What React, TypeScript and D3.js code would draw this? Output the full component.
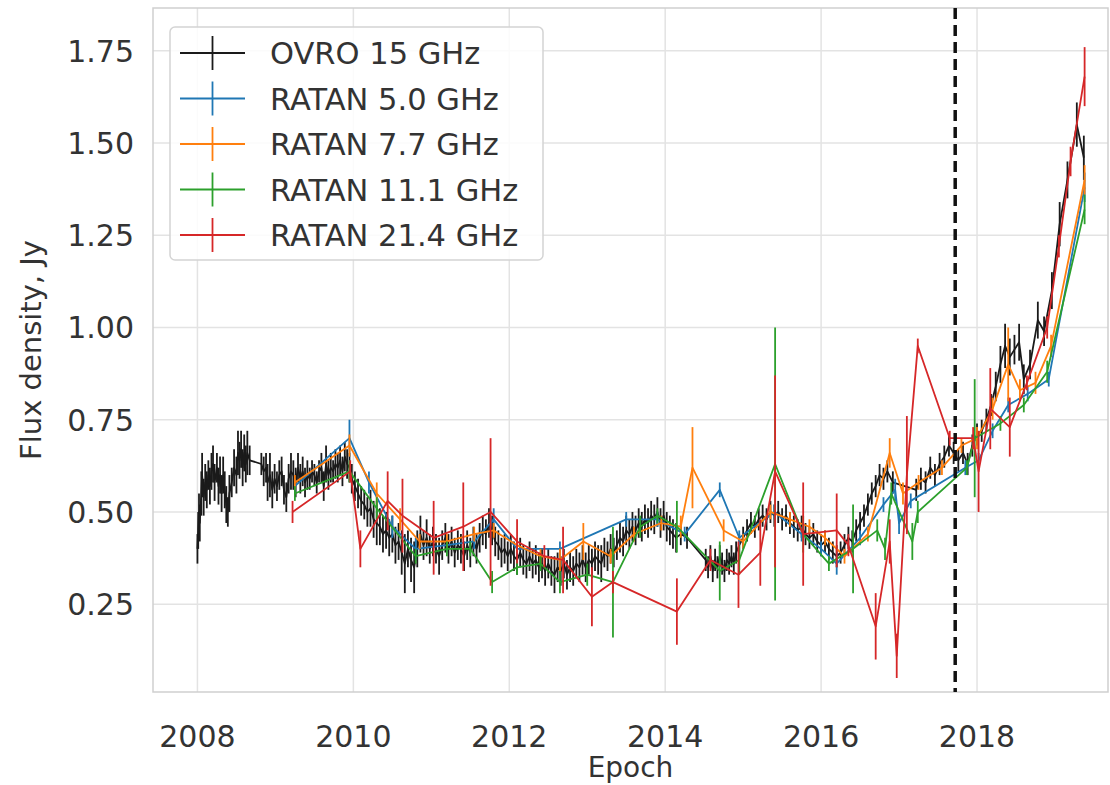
import React from "react";
import * as d3 from "d3";

// [epoch, flux density (Jy), 1-sigma error]
type Pt = [number, number, number];

const OVRO_15: Pt[] = [
  [2008.00, 0.40, 0.04], [2008.01, 0.45, 0.05], [2008.02, 0.50, 0.05], [2008.03, 0.47, 0.05],
  [2008.05, 0.55, 0.06], [2008.06, 0.60, 0.06], [2008.08, 0.54, 0.05], [2008.10, 0.58, 0.05],
  [2008.12, 0.56, 0.05], [2008.14, 0.60, 0.04], [2008.16, 0.57, 0.05], [2008.18, 0.61, 0.05],
  [2008.20, 0.63, 0.05], [2008.22, 0.58, 0.05], [2008.25, 0.62, 0.04], [2008.27, 0.57, 0.05],
  [2008.29, 0.60, 0.05], [2008.31, 0.55, 0.05], [2008.33, 0.60, 0.05], [2008.35, 0.56, 0.05],
  [2008.37, 0.52, 0.05], [2008.39, 0.50, 0.04], [2008.41, 0.55, 0.05], [2008.44, 0.58, 0.04],
  [2008.47, 0.62, 0.05], [2008.50, 0.60, 0.05], [2008.52, 0.66, 0.06], [2008.54, 0.64, 0.05],
  [2008.56, 0.67, 0.05], [2008.58, 0.62, 0.05], [2008.60, 0.66, 0.05], [2008.62, 0.63, 0.05],
  [2008.64, 0.66, 0.06], [2008.67, 0.64, 0.04], [2008.82, 0.63, 0.03], [2008.85, 0.61, 0.04],
  [2008.88, 0.62, 0.04], [2008.90, 0.58, 0.05], [2008.93, 0.60, 0.06], [2008.96, 0.56, 0.05],
  [2008.99, 0.59, 0.04], [2009.02, 0.57, 0.04], [2009.05, 0.60, 0.04], [2009.08, 0.61, 0.04],
  [2009.11, 0.56, 0.04], [2009.14, 0.54, 0.04], [2009.17, 0.59, 0.04], [2009.20, 0.61, 0.05],
  [2009.23, 0.60, 0.04], [2009.26, 0.58, 0.04], [2009.29, 0.62, 0.04], [2009.32, 0.59, 0.04],
  [2009.35, 0.61, 0.04], [2009.38, 0.58, 0.04], [2009.41, 0.60, 0.04], [2009.44, 0.59, 0.03],
  [2009.47, 0.61, 0.03], [2009.50, 0.60, 0.03], [2009.53, 0.58, 0.03], [2009.56, 0.61, 0.03],
  [2009.59, 0.62, 0.04], [2009.62, 0.57, 0.04], [2009.65, 0.63, 0.05], [2009.68, 0.60, 0.04],
  [2009.71, 0.62, 0.04], [2009.74, 0.61, 0.03], [2009.77, 0.63, 0.04], [2009.80, 0.62, 0.04],
  [2009.83, 0.64, 0.04], [2009.86, 0.61, 0.04], [2009.89, 0.65, 0.04], [2009.92, 0.63, 0.04],
  [2009.95, 0.62, 0.04], [2009.98, 0.59, 0.04], [2010.02, 0.57, 0.04], [2010.06, 0.55, 0.04],
  [2010.10, 0.53, 0.04], [2010.14, 0.52, 0.04], [2010.18, 0.50, 0.04], [2010.22, 0.51, 0.05],
  [2010.26, 0.48, 0.05], [2010.30, 0.47, 0.06], [2010.34, 0.46, 0.05], [2010.38, 0.44, 0.05],
  [2010.42, 0.45, 0.05], [2010.46, 0.43, 0.05], [2010.50, 0.44, 0.05], [2010.54, 0.41, 0.05],
  [2010.58, 0.42, 0.05], [2010.62, 0.39, 0.06], [2010.66, 0.36, 0.08], [2010.70, 0.40, 0.05],
  [2010.74, 0.37, 0.06], [2010.78, 0.35, 0.07], [2010.82, 0.40, 0.05], [2010.86, 0.44, 0.05],
  [2010.90, 0.41, 0.04], [2010.94, 0.43, 0.05], [2010.98, 0.40, 0.04], [2011.02, 0.42, 0.04],
  [2011.06, 0.40, 0.04], [2011.10, 0.38, 0.05], [2011.14, 0.41, 0.04], [2011.18, 0.43, 0.04],
  [2011.22, 0.40, 0.04], [2011.26, 0.42, 0.04], [2011.30, 0.39, 0.04], [2011.34, 0.41, 0.04],
  [2011.38, 0.40, 0.04], [2011.42, 0.38, 0.04], [2011.46, 0.41, 0.04], [2011.50, 0.39, 0.04],
  [2011.54, 0.42, 0.04], [2011.58, 0.40, 0.04], [2011.62, 0.43, 0.04], [2011.66, 0.45, 0.04],
  [2011.70, 0.44, 0.04], [2011.74, 0.47, 0.04], [2011.78, 0.45, 0.04], [2011.82, 0.42, 0.04],
  [2011.86, 0.41, 0.04], [2011.90, 0.39, 0.04], [2011.94, 0.40, 0.04], [2011.98, 0.38, 0.04],
  [2012.02, 0.40, 0.04], [2012.06, 0.38, 0.04], [2012.10, 0.37, 0.04], [2012.14, 0.39, 0.04],
  [2012.18, 0.37, 0.04], [2012.22, 0.36, 0.04], [2012.26, 0.38, 0.04], [2012.30, 0.36, 0.04],
  [2012.34, 0.37, 0.04], [2012.38, 0.35, 0.04], [2012.42, 0.36, 0.04], [2012.46, 0.34, 0.04],
  [2012.50, 0.36, 0.04], [2012.54, 0.34, 0.04], [2012.58, 0.33, 0.05], [2012.62, 0.35, 0.04],
  [2012.66, 0.34, 0.04], [2012.70, 0.36, 0.04], [2012.74, 0.33, 0.04], [2012.78, 0.35, 0.04],
  [2012.82, 0.34, 0.04], [2012.86, 0.36, 0.04], [2012.90, 0.35, 0.04], [2012.94, 0.37, 0.04],
  [2012.98, 0.35, 0.04], [2013.02, 0.37, 0.04], [2013.06, 0.36, 0.04], [2013.10, 0.38, 0.04],
  [2013.14, 0.37, 0.04], [2013.18, 0.36, 0.05], [2013.22, 0.39, 0.04], [2013.26, 0.38, 0.04],
  [2013.30, 0.40, 0.04], [2013.34, 0.39, 0.04], [2013.38, 0.41, 0.04], [2013.42, 0.43, 0.04],
  [2013.46, 0.42, 0.04], [2013.50, 0.45, 0.04], [2013.54, 0.44, 0.04], [2013.58, 0.46, 0.04],
  [2013.62, 0.45, 0.04], [2013.66, 0.47, 0.04], [2013.70, 0.46, 0.04], [2013.74, 0.48, 0.04],
  [2013.78, 0.47, 0.04], [2013.82, 0.49, 0.04], [2013.86, 0.48, 0.04], [2013.90, 0.50, 0.04],
  [2013.94, 0.47, 0.04], [2013.98, 0.49, 0.04], [2014.02, 0.46, 0.04], [2014.06, 0.45, 0.04],
  [2014.10, 0.44, 0.04], [2014.14, 0.43, 0.04], [2014.20, 0.44, 0.03], [2014.28, 0.43, 0.03],
  [2014.52, 0.37, 0.03], [2014.55, 0.35, 0.03], [2014.58, 0.38, 0.03], [2014.61, 0.34, 0.03],
  [2014.64, 0.37, 0.03], [2014.67, 0.35, 0.03], [2014.70, 0.38, 0.03], [2014.73, 0.36, 0.03],
  [2014.76, 0.34, 0.03], [2014.79, 0.37, 0.03], [2014.82, 0.36, 0.03], [2014.85, 0.38, 0.03],
  [2014.88, 0.36, 0.03], [2014.91, 0.39, 0.03], [2014.95, 0.41, 0.03], [2015.00, 0.43, 0.03],
  [2015.05, 0.45, 0.03], [2015.10, 0.47, 0.03], [2015.15, 0.46, 0.03], [2015.20, 0.48, 0.03],
  [2015.25, 0.49, 0.03], [2015.30, 0.48, 0.03], [2015.35, 0.50, 0.03], [2015.40, 0.49, 0.03],
  [2015.45, 0.50, 0.03], [2015.50, 0.48, 0.03], [2015.55, 0.49, 0.03], [2015.60, 0.47, 0.03],
  [2015.65, 0.46, 0.03], [2015.70, 0.45, 0.03], [2015.75, 0.46, 0.03], [2015.80, 0.44, 0.03],
  [2015.85, 0.43, 0.03], [2015.90, 0.44, 0.03], [2015.95, 0.42, 0.03], [2016.00, 0.41, 0.03],
  [2016.05, 0.42, 0.03], [2016.10, 0.40, 0.03], [2016.15, 0.39, 0.03], [2016.20, 0.38, 0.03],
  [2016.25, 0.39, 0.03], [2016.30, 0.41, 0.03], [2016.35, 0.43, 0.03], [2016.40, 0.42, 0.03],
  [2016.45, 0.45, 0.03], [2016.50, 0.47, 0.03], [2016.55, 0.49, 0.03], [2016.60, 0.52, 0.03],
  [2016.65, 0.55, 0.03], [2016.70, 0.57, 0.03], [2016.75, 0.60, 0.03], [2016.80, 0.59, 0.03],
  [2016.85, 0.61, 0.03], [2016.92, 0.58, 0.03], [2017.22, 0.56, 0.03], [2017.28, 0.59, 0.03],
  [2017.34, 0.58, 0.03], [2017.40, 0.62, 0.03], [2017.46, 0.60, 0.03], [2017.52, 0.63, 0.03],
  [2017.58, 0.65, 0.03], [2017.64, 0.68, 0.03], [2017.70, 0.66, 0.03], [2017.76, 0.64, 0.03],
  [2017.82, 0.66, 0.03], [2017.88, 0.63, 0.03], [2017.94, 0.68, 0.03], [2018.00, 0.71, 0.03],
  [2018.06, 0.72, 0.03], [2018.12, 0.75, 0.03], [2018.18, 0.79, 0.03], [2018.24, 0.84, 0.04],
  [2018.30, 0.90, 0.05], [2018.36, 0.95, 0.06], [2018.42, 0.92, 0.05], [2018.48, 0.94, 0.04],
  [2018.54, 0.96, 0.05], [2018.60, 0.86, 0.04], [2018.68, 0.90, 0.04], [2018.78, 1.02, 0.05],
  [2018.86, 0.99, 0.04], [2018.96, 1.10, 0.05], [2019.06, 1.28, 0.06], [2019.16, 1.40, 0.05],
  [2019.28, 1.55, 0.06], [2019.37, 1.46, 0.06],
];

const RATAN_5_0: Pt[] = [
  [2009.25, 0.57, 0.02], [2009.95, 0.70, 0.05], [2010.20, 0.58, 0.03], [2010.50, 0.46, 0.03],
  [2010.80, 0.40, 0.03], [2011.20, 0.41, 0.02], [2011.55, 0.42, 0.02], [2011.80, 0.48, 0.03],
  [2012.10, 0.40, 0.02], [2012.65, 0.40, 0.02], [2013.50, 0.48, 0.02], [2013.90, 0.48, 0.02],
  [2014.25, 0.44, 0.02], [2014.70, 0.56, 0.02], [2014.95, 0.43, 0.02], [2015.40, 0.50, 0.02],
  [2015.75, 0.44, 0.02], [2016.00, 0.40, 0.02], [2016.20, 0.36, 0.03], [2016.50, 0.43, 0.02],
  [2016.80, 0.52, 0.02], [2016.95, 0.56, 0.03], [2017.00, 0.47, 0.03], [2017.15, 0.53, 0.02],
  [2017.85, 0.62, 0.02], [2018.02, 0.64, 0.02], [2018.20, 0.72, 0.02], [2018.40, 0.79, 0.02],
  [2018.65, 0.82, 0.02], [2018.92, 0.86, 0.02], [2019.38, 1.38, 0.04],
];

const RATAN_7_7: Pt[] = [
  [2009.25, 0.58, 0.02], [2009.95, 0.68, 0.03], [2010.30, 0.55, 0.03], [2010.60, 0.48, 0.03],
  [2010.85, 0.42, 0.02], [2011.20, 0.42, 0.02], [2011.55, 0.44, 0.02], [2011.80, 0.45, 0.02],
  [2012.10, 0.41, 0.02], [2012.40, 0.38, 0.02], [2012.65, 0.37, 0.03], [2012.95, 0.42, 0.05],
  [2013.30, 0.38, 0.02], [2013.60, 0.44, 0.02], [2013.95, 0.47, 0.02], [2014.20, 0.46, 0.03],
  [2014.35, 0.62, 0.11], [2014.75, 0.45, 0.03], [2015.00, 0.42, 0.02], [2015.35, 0.50, 0.02],
  [2015.60, 0.48, 0.02], [2015.85, 0.46, 0.02], [2016.05, 0.43, 0.02], [2016.30, 0.38, 0.02],
  [2016.60, 0.44, 0.02], [2016.88, 0.66, 0.04], [2017.05, 0.55, 0.03], [2017.25, 0.58, 0.02],
  [2017.55, 0.62, 0.02], [2017.80, 0.68, 0.02], [2018.00, 0.70, 0.03], [2018.20, 0.78, 0.03],
  [2018.40, 0.90, 0.10], [2018.55, 0.83, 0.03], [2018.75, 0.85, 0.03], [2018.95, 0.95, 0.03],
  [2019.38, 1.40, 0.04],
];

const RATAN_11_1: Pt[] = [
  [2009.25, 0.55, 0.02], [2009.95, 0.61, 0.03], [2010.30, 0.51, 0.03], [2010.80, 0.38, 0.02],
  [2011.20, 0.40, 0.02], [2011.50, 0.40, 0.02], [2011.78, 0.31, 0.03], [2012.10, 0.35, 0.02],
  [2012.40, 0.36, 0.02], [2012.65, 0.31, 0.03], [2013.00, 0.33, 0.03], [2013.33, 0.31, 0.15],
  [2013.68, 0.46, 0.03], [2013.90, 0.49, 0.02], [2014.15, 0.46, 0.07], [2014.70, 0.34, 0.08],
  [2014.95, 0.37, 0.04], [2015.41, 0.63, 0.37], [2015.77, 0.44, 0.05], [2016.10, 0.36, 0.02],
  [2016.41, 0.40, 0.12], [2016.72, 0.45, 0.03], [2016.82, 0.40, 0.03], [2016.90, 0.55, 0.03],
  [2017.17, 0.42, 0.05], [2017.24, 0.50, 0.03], [2017.87, 0.62, 0.02], [2017.97, 0.70, 0.16],
  [2018.30, 0.74, 0.02], [2018.60, 0.79, 0.02], [2018.90, 0.88, 0.03], [2019.38, 1.32, 0.04],
];

const RATAN_21_4: Pt[] = [
  [2009.22, 0.50, 0.03], [2009.96, 0.61, 0.03], [2010.09, 0.40, 0.05], [2010.44, 0.53, 0.08],
  [2010.63, 0.49, 0.10], [2011.03, 0.43, 0.10], [2011.41, 0.46, 0.12], [2011.76, 0.50, 0.20],
  [2012.10, 0.42, 0.06], [2012.45, 0.38, 0.03], [2012.69, 0.37, 0.09], [2013.06, 0.27, 0.08],
  [2013.33, 0.31, 0.03], [2014.15, 0.23, 0.09], [2014.58, 0.37, 0.03], [2014.94, 0.33, 0.09],
  [2015.22, 0.39, 0.09], [2015.41, 0.61, 0.26], [2015.77, 0.44, 0.14], [2016.20, 0.45, 0.10],
  [2016.35, 0.41, 0.03], [2016.70, 0.19, 0.09], [2016.88, 0.42, 0.06], [2016.97, 0.11, 0.06],
  [2017.10, 0.60, 0.16], [2017.24, 0.95, 0.02], [2017.65, 0.70, 0.02], [2017.95, 0.70, 0.03],
  [2018.02, 0.61, 0.11], [2018.17, 0.78, 0.11], [2018.42, 0.73, 0.08], [2018.64, 0.85, 0.02],
  [2018.90, 1.00, 0.03], [2019.05, 1.22, 0.03], [2019.20, 1.45, 0.04], [2019.38, 1.68, 0.08],
];

const SERIES = [
  { name: "OVRO 15 GHz", color: "#1a1a1a", data: OVRO_15 },
  { name: "RATAN 5.0 GHz", color: "#1f77b4", data: RATAN_5_0 },
  { name: "RATAN 7.7 GHz", color: "#ff7f0e", data: RATAN_7_7 },
  { name: "RATAN 11.1 GHz", color: "#2ca02c", data: RATAN_11_1 },
  { name: "RATAN 21.4 GHz", color: "#d62728", data: RATAN_21_4 },
];

const X_TICKS = [2008, 2010, 2012, 2014, 2016, 2018];
const Y_TICKS = [0.25, 0.5, 0.75, 1.0, 1.25, 1.5, 1.75];
const X_DOMAIN = [2007.43, 2019.68];
const Y_DOMAIN = [0.012, 1.866];
const MARKER_EPOCH = 2017.72;

const W = 1110;
const H = 785;
const PLOT = { left: 153, right: 1108, top: 8, bottom: 692 };
const FONT = "'DejaVu Sans', sans-serif";
const TEXT = "#333333";

export default function App() {
  const x = d3.scaleLinear().domain(X_DOMAIN).range([PLOT.left, PLOT.right]);
  const y = d3.scaleLinear().domain(Y_DOMAIN).range([PLOT.bottom, PLOT.top]);
  const line = d3
    .line<Pt>()
    .x((d) => x(d[0]))
    .y((d) => y(d[1]));

  const legendRows = SERIES.map((s, i) => ({ ...s, cy: 53 + i * 45.5 }));

  return (
    <svg
      width={W}
      height={H}
      style={{ position: "absolute", left: 0, top: 0, background: "#fff" }}
      fontFamily={FONT}
    >
      <defs>
        <clipPath id="plot-clip">
          <rect
            x={PLOT.left}
            y={PLOT.top}
            width={PLOT.right - PLOT.left}
            height={PLOT.bottom - PLOT.top}
          />
        </clipPath>
      </defs>

      {/* grid */}
      {X_TICKS.map((t) => (
        <line key={"gx" + t} x1={x(t)} x2={x(t)} y1={PLOT.top} y2={PLOT.bottom} stroke="#e3e3e3" strokeWidth={1.5} />
      ))}
      {Y_TICKS.map((t) => (
        <line key={"gy" + t} x1={PLOT.left} x2={PLOT.right} y1={y(t)} y2={y(t)} stroke="#e3e3e3" strokeWidth={1.5} />
      ))}

      {/* frame */}
      <rect
        x={PLOT.left}
        y={PLOT.top}
        width={PLOT.right - PLOT.left}
        height={PLOT.bottom - PLOT.top}
        fill="none"
        stroke="#cfcfcf"
        strokeWidth={1.5}
      />

      {/* series with error bars */}
      <g clipPath="url(#plot-clip)">
        {SERIES.map((s) => (
          <g key={s.name}>
            {s.data.map((d, i) => (
              <line
                key={i}
                x1={x(d[0])}
                x2={x(d[0])}
                y1={y(d[1] - d[2])}
                y2={y(d[1] + d[2])}
                stroke={s.color}
                strokeWidth={1.8}
              />
            ))}
            <path d={line(s.data) || ""} fill="none" stroke={s.color} strokeWidth={1.8} strokeLinejoin="round" />
          </g>
        ))}
        <line
          x1={x(MARKER_EPOCH)}
          x2={x(MARKER_EPOCH)}
          y1={PLOT.top}
          y2={PLOT.bottom}
          stroke="#111"
          strokeWidth={3.5}
          strokeDasharray="11,6"
        />
      </g>

      {/* tick labels */}
      {X_TICKS.map((t) => (
        <text key={"tx" + t} x={x(t)} y={747} textAnchor="middle" fontSize={30} fill={TEXT}>
          {t}
        </text>
      ))}
      {Y_TICKS.map((t) => (
        <text key={"ty" + t} x={134} y={y(t) + 11} textAnchor="end" fontSize={30} fill={TEXT}>
          {t.toFixed(2)}
        </text>
      ))}

      {/* axis labels */}
      <text x={(PLOT.left + PLOT.right) / 2} y={777} textAnchor="middle" fontSize={28} fill={TEXT}>
        Epoch
      </text>
      <text
        transform={`translate(41, ${(PLOT.top + PLOT.bottom) / 2}) rotate(-90)`}
        textAnchor="middle"
        fontSize={29}
        fill={TEXT}
      >
        Flux density, Jy
      </text>

      {/* legend */}
      <rect x={170} y={27} width={373} height={233} rx={5} fill="#fff" fillOpacity={0.85} stroke="#d4d4d4" strokeWidth={1.5} />
      {legendRows.map((r) => (
        <g key={"lg" + r.name}>
          <line x1={180} x2={245} y1={r.cy} y2={r.cy} stroke={r.color} strokeWidth={1.8} />
          <line x1={212.5} x2={212.5} y1={r.cy - 17} y2={r.cy + 17} stroke={r.color} strokeWidth={1.8} />
          <text x={270} y={r.cy + 11} fontSize={30.5} fill={TEXT}>
            {r.name}
          </text>
        </g>
      ))}
    </svg>
  );
}
